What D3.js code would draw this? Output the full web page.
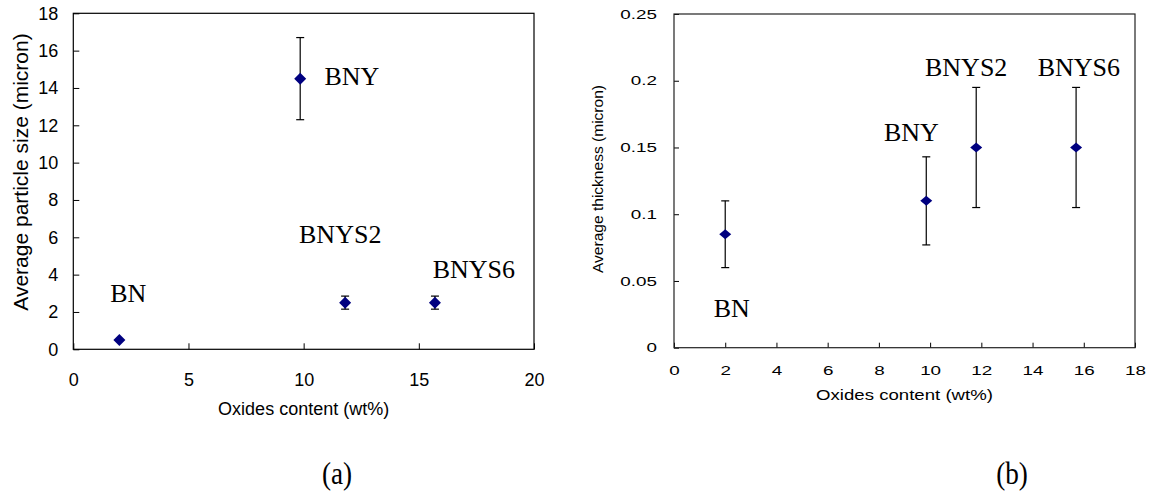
<!DOCTYPE html>
<html>
<head>
<meta charset="utf-8">
<script src="https://cdn.jsdelivr.net/npm/d3@7"></script>
<style>
  body { margin: 0; background: #fff; }
  svg { display: block; }
</style>
</head>
<body>
<div id="chart"></div>
<script>
// samples and their oxide content
const samples = ["BN", "BNY", "BNYS2", "BNYS6"];
const oxides = [2, 9.85, 11.8, 15.7];

// (a) particle size, micron
const sizeMean = [0.5, 14.5, 2.5, 2.5];
const sizeErr = [0, 2.2, 0.35, 0.35];

// (b) thickness, micron
const thickMean = [0.085, 0.11, 0.15, 0.15];
const thickErr = [0.025, 0.033, 0.045, 0.045];

// label anchors in data units [x, y]
const labelPosA = [[1.6, 2.55], [10.9, 14.15], [9.8, 5.7], [15.6, 3.8]];
const labelPosB = [[1.55, 0.023], [8.2, 0.155], [9.8, 0.2035], [14.2, 0.2035]];

const xTicksA = [0, 5, 10, 15, 20];
const yTicksA = [0, 2, 4, 6, 8, 10, 12, 14, 16, 18];
const xTicksB = [0, 2, 4, 6, 8, 10, 12, 14, 16, 18];
const yTicksB = [0, 0.05, 0.1, 0.15, 0.2, 0.25];

const sans = "'Liberation Sans', Arial, sans-serif";
const serif = "'Liberation Serif', 'Times New Roman', serif";
const navy = "#000080";

var svg = d3.select('#chart')
    .append('svg')
    .attr('width', 1155)
    .attr('height', 495);

// ---------- panel (a) ----------
var xa = d3.scaleLinear().domain([0, 20]).range([73.3, 534]);
var ya = d3.scaleLinear().domain([0, 18]).range([349.3, 13.3]);

var ga = svg.append('g');

ga.append('g')
    .attr('transform', 'translate(0,' + ya(0) + ')')
    .call(d3.axisBottom(xa).tickValues(xTicksA).tickSize(-6).tickPadding(24))
    .call(g => g.select('.domain').remove())
    .call(g => g.selectAll('text').style('font', '18px ' + sans).attr('fill', '#000'));

ga.append('g')
    .attr('transform', 'translate(' + xa(0) + ',0)')
    .call(d3.axisLeft(ya).tickValues(yTicksA).tickSize(-6).tickPadding(15))
    .call(g => g.select('.domain').remove())
    .call(g => g.selectAll('text').style('font', '18px ' + sans).attr('fill', '#000'));

ga.append('rect')
    .attr('x', xa(0)).attr('y', ya(18))
    .attr('width', xa(20) - xa(0)).attr('height', ya(0) - ya(18))
    .attr('fill', 'none').attr('stroke', '#000').attr('stroke-width', 1.2);

drawPoints(ga, xa, ya, sizeMean, sizeErr, 6, 6);
drawLabels(ga, xa, ya, labelPosA);

ga.append('text')
    .attr('x', (xa(0) + xa(20)) / 2).attr('y', 415)
    .attr('text-anchor', 'middle')
    .style('font', '18px ' + sans)
    .text('Oxides content (wt%)');

ga.append('text')
    .attr('transform', 'translate(28,172) rotate(-90)')
    .attr('text-anchor', 'middle')
    .style('font', '21px ' + sans)
    .text('Average particle size (micron)');

// ---------- panel (b) ----------
var xb = d3.scaleLinear().domain([0, 18]).range([674, 1135]);
var yb = d3.scaleLinear().domain([0, 0.25]).range([347.7, 14]);
var sx = 1.45; // panel b text is stretched sideways

var gb = svg.append('g');

gb.append('g')
    .attr('transform', 'translate(0,' + yb(0) + ')')
    .call(d3.axisBottom(xb).tickValues(xTicksB).tickSize(-5).tickPadding(18))
    .call(g => g.select('.domain').remove())
    .call(g => g.selectAll('text')
        .style('font', '13px ' + sans).attr('fill', '#000')
        .attr('transform', 'scale(' + sx + ',1)'));

gb.append('g')
    .attr('transform', 'translate(' + xb(0) + ',0)')
    .call(d3.axisLeft(yb).tickValues(yTicksB).tickSize(-5).tickFormat(d => String(d)))
    .call(g => g.select('.domain').remove())
    .call(g => g.selectAll('text')
        .style('font', '13px ' + sans).attr('fill', '#000')
        .attr('x', -17 / sx)
        .attr('transform', 'scale(' + sx + ',1)'));

gb.append('rect')
    .attr('x', xb(0)).attr('y', yb(0.25))
    .attr('width', xb(18) - xb(0)).attr('height', yb(0) - yb(0.25))
    .attr('fill', 'none').attr('stroke', '#222').attr('stroke-width', 1.2);

drawPoints(gb, xb, yb, thickMean, thickErr, 6, 5);
drawLabels(gb, xb, yb, labelPosB);

gb.append('text')
    .attr('transform', 'translate(' + ((xb(0) + xb(18)) / 2) + ',400) scale(' + 1.33 + ',1)')
    .attr('text-anchor', 'middle')
    .style('font', '14px ' + sans)
    .text('Oxides content (wt%)');

gb.append('text')
    .attr('transform', 'translate(603,179) rotate(-90)')
    .attr('text-anchor', 'middle')
    .attr('textLength', 188)
    .attr('lengthAdjust', 'spacingAndGlyphs')
    .style('font', '15px ' + sans)
    .text('Average thickness (micron)');

// captions
svg.append('text')
    .attr('transform', 'translate(337,484) scale(0.85,1)')
    .attr('text-anchor', 'middle')
    .style('font', '32px ' + serif)
    .text('(a)');

svg.append('text')
    .attr('transform', 'translate(1012,484) scale(0.85,1)')
    .attr('text-anchor', 'middle')
    .style('font', '32px ' + serif)
    .text('(b)');

function drawPoints(g, x, y, mean, err, hw, hh) {
  var pts = samples.map((s, i) => ({ x: oxides[i], y: mean[i], e: err[i] }));
  var withErr = pts.filter(d => d.e > 0);

  var bars = g.append('g').attr('stroke', '#000').attr('stroke-width', 1.2);
  bars.selectAll('line.v').data(withErr).enter().append('line')
      .attr('x1', d => x(d.x)).attr('x2', d => x(d.x))
      .attr('y1', d => y(d.y + d.e)).attr('y2', d => y(d.y - d.e));
  bars.selectAll('line.t').data(withErr).enter().append('line')
      .attr('x1', d => x(d.x) - 4).attr('x2', d => x(d.x) + 4)
      .attr('y1', d => y(d.y + d.e)).attr('y2', d => y(d.y + d.e));
  bars.selectAll('line.b').data(withErr).enter().append('line')
      .attr('x1', d => x(d.x) - 4).attr('x2', d => x(d.x) + 4)
      .attr('y1', d => y(d.y - d.e)).attr('y2', d => y(d.y - d.e));

  g.append('g').selectAll('path').data(pts).enter().append('path')
      .attr('transform', d => 'translate(' + x(d.x) + ',' + y(d.y) + ')')
      .attr('d', 'M0,' + (-hh) + 'L' + hw + ',0L0,' + hh + 'L' + (-hw) + ',0Z')
      .attr('fill', navy);
}

function drawLabels(g, x, y, pos) {
  g.append('g').selectAll('text').data(samples).enter().append('text')
      .attr('x', (d, i) => x(pos[i][0]))
      .attr('y', (d, i) => y(pos[i][1]))
      .style('font', '26px ' + serif)
      .text(d => d);
}
</script>
</body>
</html>
